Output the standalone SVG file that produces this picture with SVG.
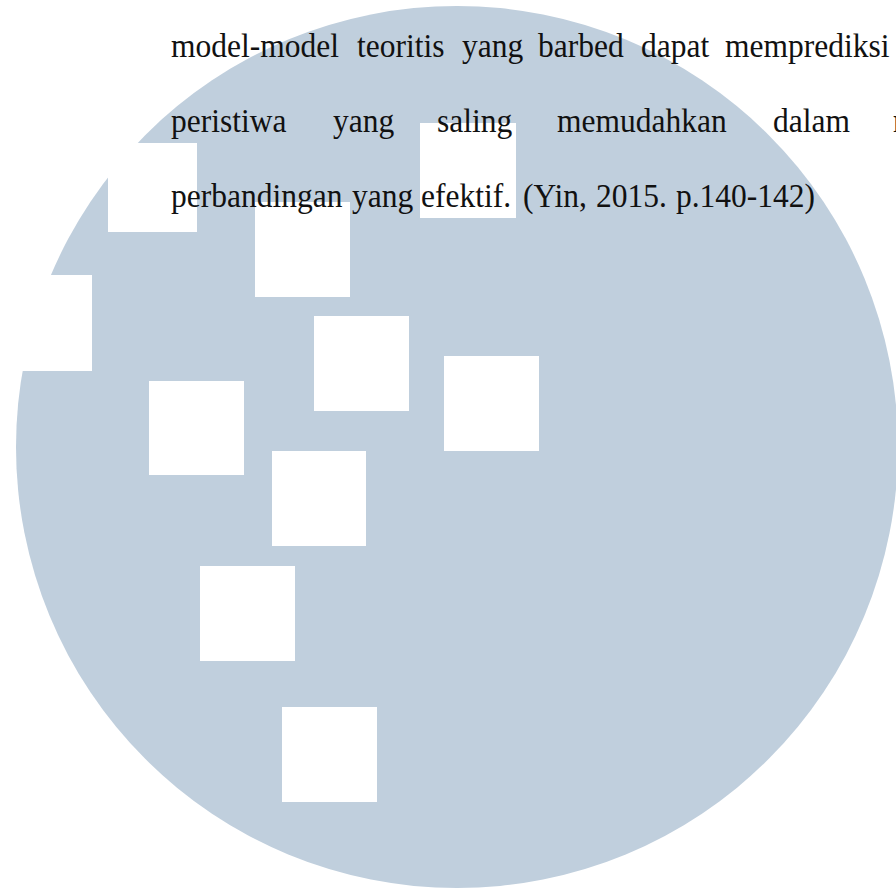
<svg xmlns="http://www.w3.org/2000/svg" width="896" height="892" viewBox="0 0 896 892">
  <style>
    .disc { fill: #c0cfdd; }
    .tile { fill: #ffffff; }
    .body { font-family: "Liberation Serif", "Times New Roman", serif; font-size: 31.5px; fill: #111111; }
  </style>
  <rect width="896" height="892" fill="#ffffff"/>

  <!-- large pale disc -->
  <circle class="disc" cx="457" cy="447" r="441"/>

  <!-- white tiles scattered over the disc -->
  <g id="tiles">
    <rect class="tile" x="108" y="143" width="89" height="89"/>
    <rect class="tile" x="255" y="202" width="95" height="95"/>
    <rect class="tile" x="420" y="123" width="96" height="95"/>
    <rect class="tile" x="0" y="275" width="92" height="96"/>
    <rect class="tile" x="314" y="316" width="95" height="95"/>
    <rect class="tile" x="149" y="381" width="95" height="94"/>
    <rect class="tile" x="444" y="356" width="95" height="95"/>
    <rect class="tile" x="272" y="451" width="94" height="95"/>
    <rect class="tile" x="200" y="566" width="95" height="95"/>
    <rect class="tile" x="282" y="707" width="95" height="95"/>
  </g>

  <!-- justified paragraph text -->
  <g id="paragraph" class="body">
    <text transform="translate(0,56.7) scale(1,1.1)">
      <tspan x="171">model-model</tspan><tspan x="357">teoritis</tspan><tspan x="462">yang</tspan><tspan x="538">barbed</tspan><tspan x="641">dapat</tspan><tspan x="725">memprediksi</tspan>
    </text>
    <text transform="translate(0,131.7) scale(1,1.1)">
      <tspan x="171">peristiwa</tspan><tspan x="333">yang</tspan><tspan x="437">saling</tspan><tspan x="557">memudahkan</tspan><tspan x="773">dalam</tspan><tspan x="893">m</tspan>
    </text>
    <text transform="translate(0,206.7) scale(1,1.1)">
      <tspan x="171">perbandingan</tspan><tspan x="352">yang</tspan><tspan x="421">efektif.</tspan><tspan x="523">(Yin,</tspan><tspan x="596">2015.</tspan><tspan x="676">p.140-142)</tspan>
    </text>
  </g>
</svg>
